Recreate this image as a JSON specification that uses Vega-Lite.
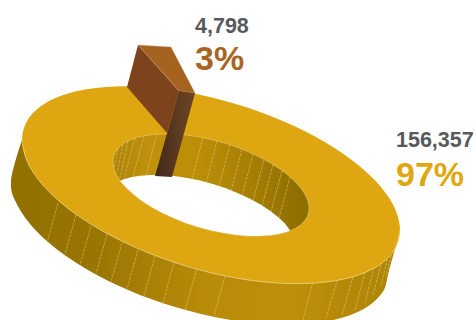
{
  "$schema": "https://vega.github.io/schema/vega-lite/v6.json",
  "width": 476,
  "height": 320,
  "padding": 0,
  "autosize": {"type": "fit", "contains": "padding"},
  "background": "white",
  "view": {"stroke": null},
  "config": {"text": {"font": "Liberation Sans", "fontWeight": "bold", "align": "left", "baseline": "alphabetic"}},
  "datasets": {
    "outerWall": [
      {"i":0,"x":22,"y":140},{"i":1,"x":11,"y":181},{"i":2,"x":17.4,"y":205.2},{"i":3,"x":36.3,"y":230.9},{"i":4,"x":66.4,"y":256.3},{"i":5,"x":105.5,"y":279.5},{"i":6,"x":151,"y":299.1},{"i":7,"x":200,"y":313.8},{"i":8,"x":249,"y":322.5},{"i":9,"x":294.5,"y":324.5},{"i":10,"x":333.6,"y":319.9},{"i":11,"x":363.7,"y":308.9},{"i":12,"x":382.6,"y":292.2},{"i":13,"x":389,"y":271},{"i":14,"x":400,"y":230}
    ],
    "topFace": [
      {"i":0,"x":400,"y":230},{"i":1,"x":393.6,"y":251.2},{"i":2,"x":374.7,"y":267.9},{"i":3,"x":344.6,"y":278.9},{"i":4,"x":305.5,"y":283.5},{"i":5,"x":260,"y":281.5},{"i":6,"x":211,"y":272.8},{"i":7,"x":162,"y":258.1},{"i":8,"x":116.5,"y":238.5},{"i":9,"x":77.4,"y":215.3},{"i":10,"x":47.3,"y":189.9},{"i":11,"x":28.4,"y":164.2},{"i":12,"x":22,"y":140},{"i":13,"x":28.4,"y":118.8},{"i":14,"x":47.3,"y":102.1},{"i":15,"x":77.4,"y":91.1},{"i":16,"x":116.5,"y":86.5},{"i":17,"x":162,"y":88.5},{"i":18,"x":211,"y":97.2},{"i":19,"x":260,"y":111.9},{"i":20,"x":305.5,"y":131.5},{"i":21,"x":344.6,"y":154.7},{"i":22,"x":374.7,"y":180.1},{"i":23,"x":393.6,"y":205.8}
    ],
    "innerWall": [
      {"i":0,"x":309,"y":208.3},{"i":1,"x":305.7,"y":219.3},{"i":2,"x":295.9,"y":228},{"i":3,"x":280.3,"y":233.7},{"i":4,"x":260,"y":236},{"i":5,"x":236.4,"y":235},{"i":6,"x":211,"y":230.5},{"i":7,"x":185.6,"y":223},{"i":8,"x":162,"y":212.7},{"i":9,"x":141.7,"y":200.7},{"i":10,"x":126.1,"y":187.6},{"i":11,"x":116.3,"y":174.3},{"i":12,"x":113,"y":161.7},{"i":13,"x":116.3,"y":150.7},{"i":14,"x":126.1,"y":142},{"i":15,"x":141.7,"y":136.3},{"i":16,"x":162,"y":134},{"i":17,"x":185.6,"y":135},{"i":18,"x":211,"y":139.5},{"i":19,"x":236.4,"y":147},{"i":20,"x":260,"y":157.3},{"i":21,"x":280.3,"y":169.3},{"i":22,"x":295.9,"y":182.5},{"i":23,"x":305.7,"y":195.7}
    ],
    "opening": [
      {"i":0,"x":120,"y":181},{"i":1,"x":122.3,"y":179.8},{"i":2,"x":130.7,"y":177.3},{"i":3,"x":140.3,"y":175.7},{"i":4,"x":151,"y":175},{"i":5,"x":162.5,"y":175.1},{"i":6,"x":174.6,"y":176},{"i":7,"x":187.2,"y":177.9},{"i":8,"x":200,"y":180.5},{"i":9,"x":212.8,"y":183.9},{"i":10,"x":225.4,"y":188},{"i":11,"x":237.5,"y":192.9},{"i":12,"x":249,"y":198.3},{"i":13,"x":259.7,"y":204.1},{"i":14,"x":269.3,"y":210.3},{"i":15,"x":277.7,"y":216.8},{"i":16,"x":284.9,"y":223.5},{"i":17,"x":290,"y":230.2},{"i":18,"x":288.7,"y":231.2},{"i":19,"x":280.3,"y":233.7},{"i":20,"x":270.7,"y":235.3},{"i":21,"x":260,"y":236},{"i":22,"x":248.5,"y":235.9},{"i":23,"x":236.4,"y":235},{"i":24,"x":223.8,"y":233.1},{"i":25,"x":211,"y":230.5},{"i":26,"x":198.2,"y":227.1},{"i":27,"x":185.6,"y":223},{"i":28,"x":173.5,"y":218.1},{"i":29,"x":162,"y":212.7},{"i":30,"x":151.3,"y":206.9},{"i":31,"x":141.7,"y":200.7},{"i":32,"x":133.3,"y":194.2},{"i":33,"x":126.1,"y":187.6}
    ],
    "outerStripes": [
      {"x":58,"y":203,"x2":47,"y2":243},{"x":76,"y":215,"x2":65,"y2":254},{"x":91,"y":226,"x2":80,"y2":265},{"x":107,"y":234,"x2":96,"y2":274},{"x":122,"y":243,"x2":111,"y2":282},{"x":138,"y":250,"x2":127,"y2":289},{"x":155,"y":256,"x2":144,"y2":296},{"x":174,"y":262,"x2":163,"y2":303},{"x":197,"y":269,"x2":185,"y2":310},{"x":225,"y":276,"x2":214,"y2":316},{"x":313,"y":282,"x2":303,"y2":320},{"x":337,"y":281,"x2":326,"y2":318},{"x":353,"y":277,"x2":342,"y2":315},{"x":365,"y":272,"x2":355,"y2":310},{"x":374,"y":267,"x2":365,"y2":303},{"x":382,"y":261,"x2":373,"y2":295},{"x":388,"y":255,"x2":381,"y2":287},{"x":393,"y":248,"x2":386,"y2":277}
    ],
    "innerStripes": [
      {"x":157,"y":134.2,"x2":146,"y2":175},{"x":144,"y":135.9,"x2":133,"y2":177},{"x":135,"y":138.3,"x2":124,"y2":179},{"x":128,"y":141.1,"x2":120,"y2":178},{"x":123,"y":144.1,"x2":117,"y2":172},{"x":118,"y":148.6,"x2":114,"y2":168},{"x":203,"y":137.7,"x2":192,"y2":179},{"x":217,"y":141,"x2":206,"y2":184},{"x":230,"y":144.9,"x2":219,"y2":186},{"x":242,"y":149.2,"x2":231,"y2":191},{"x":253,"y":153.9,"x2":242,"y2":196},{"x":264,"y":159.3,"x2":253,"y2":201},{"x":273,"y":164.5,"x2":262,"y2":206},{"x":282,"y":170.6,"x2":271,"y2":212},{"x":290,"y":176.9,"x2":279,"y2":218}
    ],
    "sliceSide": [
      {"i":0,"x":138,"y":45},{"i":1,"x":179,"y":91},{"i":2,"x":167,"y":133},{"i":3,"x":127,"y":87}
    ],
    "sliceTop": [
      {"i":0,"x":138,"y":45},{"i":1,"x":171,"y":47},{"i":2,"x":195,"y":93},{"i":3,"x":179,"y":91}
    ],
    "sliceFront": [
      {"i":0,"x":179,"y":91},{"i":1,"x":195,"y":93},{"i":2,"x":172,"y":177},{"i":3,"x":155,"y":176}
    ],
    "segments": [
      {"segment":"Smaller","count":4798,"share":0.03},
      {"segment":"Larger","count":156357,"share":0.97}
    ]
  },
  "layer": [
    {
      "encoding": {
        "x": {"field":"x","type":"quantitative","axis":null,"scale":{"domain":[0,476]}},
        "y": {"field":"y","type":"quantitative","axis":null,"scale":{"domain":[320,0]}},
        "order": {"field":"i"}
      },
      "layer": [
        {
          "data": {"name":"outerWall"},
          "mark": {"type":"line","interpolate":"cardinal","clip":true,"stroke":null,
            "fill":{"gradient":"linear","x1":0,"x2":1,"y1":0,"y2":0,"stops":[
              {"offset":0,"color":"#917000"},{"offset":0.23,"color":"#9a7602"},{"offset":0.49,"color":"#b88b08"},{"offset":0.72,"color":"#bd8f0a"},{"offset":1,"color":"#ad8406"}]}}
        },
        {
          "data": {"name":"outerStripes"},
          "mark": {"type":"rule","stroke":"#e2cd85","strokeWidth":0.7,"strokeDash":[3,1],"opacity":0.75,"clip":true},
          "encoding": {"x2":{"field":"x2"},"y2":{"field":"y2"},"order":null}
        },
        {
          "data": {"name":"topFace"},
          "mark": {"type":"line","interpolate":"cardinal-closed","fill":"#dea611","stroke":null}
        },
        {
          "data": {"name":"topFace"},
          "transform": [{"filter":"datum.i <= 12"}],
          "mark": {"type":"line","interpolate":"cardinal","stroke":"#f0dc9a","strokeWidth":0.7}
        },
        {
          "data": {"name":"innerWall"},
          "mark": {"type":"line","interpolate":"cardinal-closed","stroke":"#eed68c","strokeWidth":0.5,
            "fill":{"gradient":"linear","x1":0,"x2":1,"y1":0,"y2":0,"stops":[
              {"offset":0,"color":"#ae8406"},{"offset":0.19,"color":"#c0920c"},{"offset":0.44,"color":"#bc8e08"},{"offset":0.75,"color":"#a27c03"},{"offset":0.95,"color":"#8f6e00"}]}}
        },
        {
          "data": {"name":"innerStripes"},
          "mark": {"type":"rule","stroke":"#e2cd85","strokeWidth":0.7,"strokeDash":[3,1],"opacity":0.75},
          "encoding": {"x2":{"field":"x2"},"y2":{"field":"y2"},"order":null}
        },
        {
          "data": {"name":"opening"},
          "mark": {"type":"line","interpolate":"linear-closed","fill":"white","stroke":null}
        },
        {
          "data": {"name":"sliceSide"},
          "mark": {"type":"line","interpolate":"linear-closed","fill":"#7c431d","stroke":null}
        },
        {
          "data": {"name":"sliceTop"},
          "mark": {"type":"line","interpolate":"linear-closed","fill":"#a6631f","stroke":"#c9a27a","strokeWidth":0.4}
        },
        {
          "data": {"name":"sliceFront"},
          "mark": {"type":"line","interpolate":"linear-closed","stroke":null,
            "fill":{"gradient":"linear","x1":0,"x2":1,"y1":0,"y2":0,"stops":[
              {"offset":0,"color":"#412818"},{"offset":0.6,"color":"#5e3c20"},{"offset":1,"color":"#6e4623"}]}}
        }
      ]
    },
    {
      "data": {"name":"segments"},
      "encoding": {
        "x": {"field":"segment","type":"nominal","axis":null,"sort":null,
          "scale":{"type":"point","domain":["Smaller","Larger"],"range":[195,396],"padding":0}}
      },
      "layer": [
        {
          "mark": {"type":"text","fontSize":21.5,"fill":"#58595b"},
          "encoding": {
            "text": {"field":"count","type":"quantitative","format":","},
            "y": {"field":"segment","type":"nominal","axis":null,"sort":null,
              "scale":{"type":"point","domain":["Smaller","Larger"],"range":[33,147],"padding":0}}
          }
        },
        {
          "mark": {"type":"text","fontSize":34},
          "encoding": {
            "text": {"field":"share","type":"quantitative","format":".0%"},
            "y": {"field":"segment","type":"nominal","axis":null,"sort":null,
              "scale":{"type":"point","domain":["Smaller","Larger"],"range":[70,186],"padding":0}},
            "color": {"field":"segment","type":"nominal","legend":null,
              "scale":{"domain":["Smaller","Larger"],"range":["#a9651f","#dfa711"]}}
          }
        }
      ],
      "resolve": {"scale":{"y":"independent"}}
    }
  ],
  "resolve": {"scale":{"x":"independent","y":"independent"}}
}
